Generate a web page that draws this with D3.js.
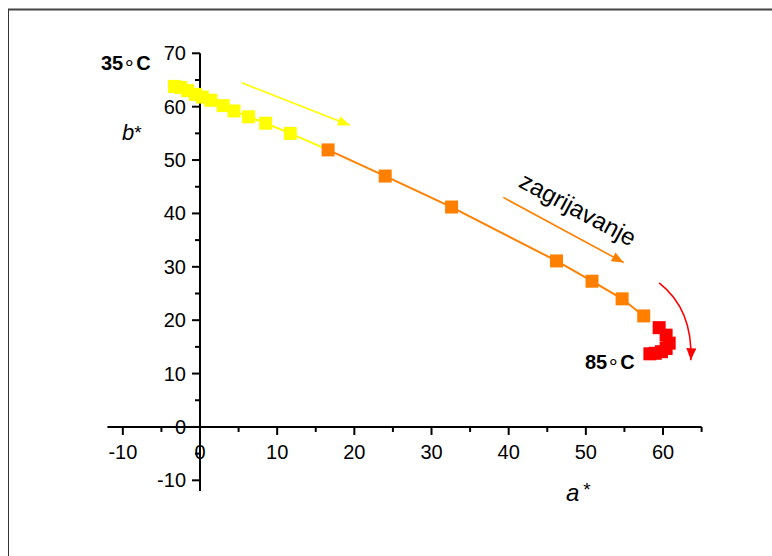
<!DOCTYPE html>
<html><head><meta charset="utf-8">
<script src="https://cdn.jsdelivr.net/npm/d3@7"></script>
<style>html,body{margin:0;padding:0;background:#fff;}svg{display:block;font-family:Arial,"Liberation Sans",sans-serif;}</style>
</head><body>
<svg id="c" width="772" height="556"></svg>
<script>
// Data (a*, b*)
const yellowA = [-3.3, -2.5, -1.6, -0.6, 0.3, 1.4, 3.0, 4.4, 6.3, 8.5, 11.7];
const yellowB = [63.8, 63.6, 63.0, 62.3, 61.8, 61.2, 60.2, 59.2, 58.1, 56.9, 55.0];
const orangeA = [16.6, 24.0, 32.6, 46.2, 50.8, 54.7, 57.5];
const orangeB = [51.9, 47.0, 41.2, 31.1, 27.3, 24.0, 20.8];
const redA = [59.5, 60.4, 60.8, 60.4, 59.8, 59.0, 58.3];
const redB = [18.6, 17.2, 15.7, 14.7, 14.1, 13.8, 13.7];
const xMajor = [-10, 0, 10, 20, 30, 40, 50, 60];
const xMinor = [-5, 5, 15, 25, 35, 45, 55, 65];
const yMajor = [-10, 0, 10, 20, 30, 40, 50, 60, 70];
const yMinor = [-5, 5, 15, 25, 35, 45, 55, 65];

const svg = d3.select("#c");
const x = d3.scaleLinear().domain([-12, 65]).range([107.4, 701.6]);
const y = d3.scaleLinear().domain([-12, 70]).range([491, 53.3]);

// frame
svg.append("line").attr("x1",8).attr("y1",9.5).attr("x2",772).attr("y2",9.5).attr("stroke","#444").attr("stroke-width",2);
svg.append("line").attr("x1",8.5).attr("y1",9).attr("x2",8.5).attr("y2",556).attr("stroke","#333").attr("stroke-width",1);

// axes
const ax = svg.append("g").attr("stroke","#000");
ax.append("line").attr("x1",x(-12)).attr("x2",x(65)).attr("y1",y(0)).attr("y2",y(0)).attr("stroke-width",2);
ax.append("line").attr("x1",x(0)).attr("x2",x(0)).attr("y1",y(-12)).attr("y2",y(70)).attr("stroke-width",2);
xMajor.forEach(v=>ax.append("line").attr("x1",x(v)).attr("x2",x(v)).attr("y1",y(0)).attr("y2",y(0)+8).attr("stroke-width",2));
xMinor.forEach(v=>ax.append("line").attr("x1",x(v)).attr("x2",x(v)).attr("y1",y(0)).attr("y2",y(0)+5).attr("stroke-width",2));
yMajor.forEach(v=>ax.append("line").attr("x1",x(0)-8).attr("x2",x(0)).attr("y1",y(v)).attr("y2",y(v)).attr("stroke-width",2));
yMinor.forEach(v=>ax.append("line").attr("x1",x(0)-5).attr("x2",x(0)).attr("y1",y(v)).attr("y2",y(v)).attr("stroke-width",2));

const lab = svg.append("g").attr("font-size",20).attr("fill","#000");
xMajor.forEach(v=>lab.append("text").attr("x",x(v)).attr("y",y(0)+32).attr("text-anchor","middle").text(v));
yMajor.forEach(v=>lab.append("text").attr("x",x(0)-14).attr("y",y(v)+7).attr("text-anchor","end").text(v));

// connecting lines
const line = d3.line().x(d=>x(d[0])).y(d=>y(d[1]));
const yPts = yellowA.map((a,i)=>[a,yellowB[i]]);
const oPts = orangeA.map((a,i)=>[a,orangeB[i]]);
const rPts = redA.map((a,i)=>[a,redB[i]]);
svg.append("path").attr("d",line(yPts.concat([oPts[0]]))).attr("fill","none").attr("stroke","#FFFF00").attr("stroke-width",2);
svg.append("path").attr("d",line(oPts)).attr("fill","none").attr("stroke","#FF8000").attr("stroke-width",2);
svg.append("path").attr("d",line(rPts)).attr("fill","none").attr("stroke","#FF0000").attr("stroke-width",2);

const s = 13;
function squares(pts,col){
  svg.append("g").selectAll("rect").data(pts).join("rect")
    .attr("x",d=>x(d[0])-s/2).attr("y",d=>y(d[1])-s/2).attr("width",s).attr("height",s).attr("fill",col);
}
squares(yPts,"#FFFF00");
squares(oPts,"#FF8000");
squares(rPts,"#FF0000");

// arrow markers
const defs = svg.append("defs");
[["ay","#FFFF00"],["ao","#FF8000"],["ar","#FF0000"]].forEach(([id,c])=>{
  defs.append("marker").attr("id",id).attr("viewBox","0 0 12 10").attr("refX",12).attr("refY",5)
    .attr("markerWidth",12).attr("markerHeight",10).attr("markerUnits","userSpaceOnUse").attr("orient","auto")
    .append("path").attr("d","M0,0L12,5L0,10Z").attr("fill",c);
});
const arrowY = [[5.4,64.5],[19.4,56.5]];
const arrowO = [[39.3,43.0],[54.9,30.8]];
const arrowR = [[59.5,27.0],[63.9,22.0],[63.6,12.5]];
svg.append("path").attr("d",line(arrowY)).attr("stroke","#FFFF00").attr("stroke-width",1.6).attr("fill","none").attr("marker-end","url(#ay)");
svg.append("path").attr("d",line(arrowO)).attr("stroke","#FF8000").attr("stroke-width",1.6).attr("fill","none").attr("marker-end","url(#ao)");
svg.append("path").attr("d",`M${x(arrowR[0][0])},${y(arrowR[0][1])}Q${x(arrowR[1][0])},${y(arrowR[1][1])} ${x(arrowR[2][0])},${y(arrowR[2][1])}`)
  .attr("stroke","#FF0000").attr("stroke-width",1.6).attr("fill","none").attr("marker-end","url(#ar)");

// annotations
const t1 = svg.append("text").attr("x",101).attr("y",70).attr("font-size",20).attr("font-weight","bold");
t1.append("tspan").text("35");
t1.append("tspan").attr("font-weight","normal").text("∘");
t1.append("tspan").text("C");
const t2 = svg.append("text").attr("x",585).attr("y",368.5).attr("font-size",20).attr("font-weight","bold");
t2.append("tspan").text("85");
t2.append("tspan").attr("font-weight","normal").text("∘");
t2.append("tspan").text("C");

const bl = svg.append("text").attr("x",122).attr("y",140).attr("font-size",22);
bl.append("tspan").attr("font-style","italic").text("b");
bl.append("tspan").attr("font-size",19).attr("dy",-1).text("*");
const al = svg.append("text").attr("x",566).attr("y",501).attr("font-size",24);
al.append("tspan").attr("font-style","italic").text("a");
al.append("tspan").attr("font-size",19).attr("dx",4).attr("dy",-5).text("*");

svg.append("text").attr("transform","translate(578,209) rotate(28.2)").attr("text-anchor","middle")
  .attr("dominant-baseline","central").attr("font-size",24).text("zagrijavanje");
</script>
</body></html>
